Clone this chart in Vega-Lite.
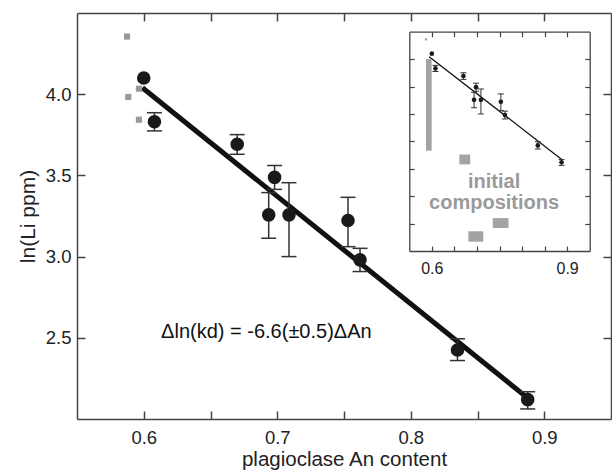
{
  "$schema": "https://vega.github.io/schema/vega-lite/v6.json",
  "width": 534,
  "height": 406,
  "autosize": {"type": "none"},
  "padding": {"left": 77, "top": 13, "right": 1, "bottom": 53},
  "background": "white",
  "config": {
    "view": {"stroke": null},
    "font": "Liberation Sans",
    "axis": {
      "grid": false,
      "domainColor": "#444",
      "domainWidth": 1.5,
      "tickColor": "#444",
      "tickWidth": 1.5,
      "labelFont": "Liberation Sans",
      "labelFontSize": 18.5,
      "labelColor": "#222",
      "labelOverlap": false,
      "labelFlush": false,
      "titleFont": "Liberation Sans",
      "titleFontWeight": "normal",
      "titleFontSize": 21,
      "titleColor": "#222"
    }
  },
  "datasets": {
    "pts": [
      {"An": 0.600, "Li": 4.100, "lo": null, "hi": null},
      {"An": 0.608, "Li": 3.830, "lo": 3.774, "hi": 3.886},
      {"An": 0.670, "Li": 3.692, "lo": 3.630, "hi": 3.751},
      {"An": 0.698, "Li": 3.488, "lo": 3.414, "hi": 3.561},
      {"An": 0.6936, "Li": 3.257, "lo": 3.113, "hi": 3.394},
      {"An": 0.7088, "Li": 3.257, "lo": 3.000, "hi": 3.455},
      {"An": 0.753, "Li": 3.222, "lo": 3.061, "hi": 3.365},
      {"An": 0.762, "Li": 2.980, "lo": 2.908, "hi": 3.051},
      {"An": 0.835, "Li": 2.425, "lo": 2.360, "hi": 2.494},
      {"An": 0.8876, "Li": 2.119, "lo": 2.062, "hi": 2.168}
    ],
    "initial": [
      {"An": 0.5875, "Li": 4.355},
      {"An": 0.5964, "Li": 4.034},
      {"An": 0.5884, "Li": 3.983},
      {"An": 0.5964, "Li": 3.843}
    ],
    "fitMain": [
      {"An": 0.599, "Li": 4.040},
      {"An": 0.887, "Li": 2.133}
    ],
    "fitInset": [
      {"An": 0.594, "Li": 4.044},
      {"An": 0.888, "Li": 2.170}
    ],
    "initialRanges": [
      {"x1": 0.587, "x2": 0.5995, "y1": 2.33, "y2": 4.00},
      {"x1": 0.661, "x2": 0.685, "y1": 2.08, "y2": 2.26},
      {"x1": 0.735, "x2": 0.770, "y1": 0.92, "y2": 1.10},
      {"x1": 0.681, "x2": 0.714, "y1": 0.67, "y2": 0.86}
    ],
    "insetDot": [
      {"An": 0.587, "Li": 4.36}
    ],
    "eqn": [
      {"An": 0.613, "Li": 2.50, "label": "Δln(kd) = -6.6(±0.5)ΔAn"}
    ],
    "insetText": [
      {"An": 0.738, "Li": 1.642, "label": "initial"},
      {"An": 0.738, "Li": 1.260, "label": "compositions"}
    ]
  },
  "layer": [
    {
      "data": {"name": "fitMain"},
      "mark": {"type": "line", "color": "#111", "strokeWidth": 5, "strokeCap": "butt"},
      "encoding": {
        "x": {"field": "An", "type": "quantitative",
          "scale": {"domain": [0.55, 0.95], "nice": false, "zero": false},
          "axis": {"orient": "top", "values": [0.6, 0.65, 0.7, 0.75, 0.8, 0.85, 0.9], "labels": false, "title": null, "tickSize": -8}},
        "y": {"field": "Li", "type": "quantitative",
          "scale": {"domain": [2.0, 4.5], "nice": false, "zero": false},
          "axis": {"orient": "right", "values": [2.5, 3.0, 3.5, 4.0], "labels": false, "title": null, "tickSize": -8}}
      }
    },
    {
      "data": {"name": "initial"},
      "mark": {"type": "square", "color": "#9a9a9a", "size": 38, "opacity": 1},
      "encoding": {
        "x": {"field": "An", "type": "quantitative",
          "scale": {"domain": [0.55, 0.95], "nice": false, "zero": false},
          "axis": {"orient": "bottom", "values": [0.6, 0.65, 0.7, 0.75, 0.8, 0.85, 0.9],
            "labelExpr": "abs(datum.value*10 - round(datum.value*10)) < 0.001 ? format(datum.value, '.1f') : ''",
            "tickSize": -8, "labelPadding": 17,
            "title": "plagioclase An content", "titleFontSize": 20.5, "titleX": 267, "titleY": 46, "titleBaseline": "alphabetic", "titleAlign": "center"}},
        "y": {"field": "Li", "type": "quantitative",
          "scale": {"domain": [2.0, 4.5], "nice": false, "zero": false},
          "axis": {"orient": "left", "values": [2.5, 3.0, 3.5, 4.0], "format": ".1f",
            "tickSize": -8, "labelPadding": 14,
            "title": "ln(Li ppm)", "titleX": -49, "titleY": 203, "titleAngle": 270, "titleBaseline": "middle", "titleAlign": "center"}}
      }
    },
    {
      "data": {"name": "pts"},
      "transform": [{"filter": "isValid(datum.lo)"}],
      "mark": {"type": "rule", "color": "#333", "strokeWidth": 1.5},
      "encoding": {
        "x": {"field": "An", "type": "quantitative", "scale": {"domain": [0.55, 0.95], "nice": false, "zero": false}, "axis": null},
        "y": {"field": "lo", "type": "quantitative", "scale": {"domain": [2.0, 4.5], "nice": false, "zero": false}, "axis": null},
        "y2": {"field": "hi"}
      }
    },
    {
      "data": {"name": "pts"},
      "transform": [{"filter": "isValid(datum.lo)"}],
      "mark": {"type": "tick", "orient": "horizontal", "color": "#333", "size": 15, "thickness": 1.5, "opacity": 1},
      "encoding": {
        "x": {"field": "An", "type": "quantitative", "scale": {"domain": [0.55, 0.95], "nice": false, "zero": false}, "axis": null},
        "y": {"field": "lo", "type": "quantitative", "scale": {"domain": [2.0, 4.5], "nice": false, "zero": false}, "axis": null}
      }
    },
    {
      "data": {"name": "pts"},
      "transform": [{"filter": "isValid(datum.hi)"}],
      "mark": {"type": "tick", "orient": "horizontal", "color": "#333", "size": 15, "thickness": 1.5, "opacity": 1},
      "encoding": {
        "x": {"field": "An", "type": "quantitative", "scale": {"domain": [0.55, 0.95], "nice": false, "zero": false}, "axis": null},
        "y": {"field": "hi", "type": "quantitative", "scale": {"domain": [2.0, 4.5], "nice": false, "zero": false}, "axis": null}
      }
    },
    {
      "data": {"name": "pts"},
      "mark": {"type": "circle", "color": "#1a1a1a", "size": 185, "opacity": 1},
      "encoding": {
        "x": {"field": "An", "type": "quantitative", "scale": {"domain": [0.55, 0.95], "nice": false, "zero": false}, "axis": null},
        "y": {"field": "Li", "type": "quantitative", "scale": {"domain": [2.0, 4.5], "nice": false, "zero": false}, "axis": null}
      }
    },
    {
      "data": {"name": "eqn"},
      "mark": {"type": "text", "align": "left", "baseline": "alphabetic", "fontSize": 20, "font": "Liberation Sans", "color": "#111"},
      "encoding": {
        "x": {"field": "An", "type": "quantitative", "scale": {"domain": [0.55, 0.95], "nice": false, "zero": false}, "axis": null},
        "y": {"field": "Li", "type": "quantitative", "scale": {"domain": [2.0, 4.5], "nice": false, "zero": false}, "axis": null},
        "text": {"field": "label"}
      }
    },
    {
      "data": {"name": "fitInset"},
      "mark": {"type": "line", "color": "#111", "strokeWidth": 1.3},
      "encoding": {
        "x": {"field": "An", "type": "quantitative",
          "scale": {"domain": [0.55, 0.95], "nice": false, "zero": false, "range": [332.3, 512.7]},
          "axis": {"orient": "top", "offset": -18.7, "values": [0.6, 0.65, 0.7, 0.75, 0.8, 0.85, 0.9], "labels": false, "title": null, "tickSize": -5, "domainWidth": 1.3, "tickWidth": 1.2}},
        "y": {"field": "Li", "type": "quantitative",
          "scale": {"domain": [0.5, 4.5], "nice": false, "zero": false, "range": [238, 18.7]},
          "axis": {"orient": "right", "offset": -21.3, "values": [1.0, 1.5, 2.0, 2.5, 3.0, 3.5, 4.0], "labels": false, "title": null, "tickSize": -5, "domainWidth": 1.3, "tickWidth": 1.2}}
      }
    },
    {
      "data": {"name": "initialRanges"},
      "mark": {"type": "rect", "color": "#a3a3a3", "opacity": 1},
      "encoding": {
        "x": {"field": "x1", "type": "quantitative",
          "scale": {"domain": [0.55, 0.95], "nice": false, "zero": false, "range": [332.3, 512.7]},
          "axis": {"orient": "bottom", "offset": -168, "values": [0.6, 0.65, 0.7, 0.75, 0.8, 0.85, 0.9],
            "labelExpr": "abs(datum.value-0.6) < 0.001 || abs(datum.value-0.9) < 0.001 ? format(datum.value, '.1f') : ''",
            "labelFontSize": 16, "tickSize": -5, "labelPadding": 14, "title": null, "domainWidth": 1.3, "tickWidth": 1.2}},
        "x2": {"field": "x2"},
        "y": {"field": "y1", "type": "quantitative",
          "scale": {"domain": [0.5, 4.5], "nice": false, "zero": false, "range": [238, 18.7]},
          "axis": {"orient": "left", "offset": -332.3, "values": [1.0, 1.5, 2.0, 2.5, 3.0, 3.5, 4.0], "labels": false, "title": null, "tickSize": -5, "domainWidth": 1.3, "tickWidth": 1.2}},
        "y2": {"field": "y2"}
      }
    },
    {
      "data": {"name": "insetDot"},
      "mark": {"type": "square", "color": "#a3a3a3", "size": 5, "opacity": 1},
      "encoding": {
        "x": {"field": "An", "type": "quantitative", "scale": {"domain": [0.55, 0.95], "nice": false, "zero": false, "range": [332.3, 512.7]}, "axis": null},
        "y": {"field": "Li", "type": "quantitative", "scale": {"domain": [0.5, 4.5], "nice": false, "zero": false, "range": [238, 18.7]}, "axis": null}
      }
    },
    {
      "data": {"name": "pts"},
      "transform": [{"filter": "isValid(datum.lo)"}],
      "mark": {"type": "rule", "color": "#333", "strokeWidth": 1},
      "encoding": {
        "x": {"field": "An", "type": "quantitative", "scale": {"domain": [0.55, 0.95], "nice": false, "zero": false, "range": [332.3, 512.7]}, "axis": null},
        "y": {"field": "lo", "type": "quantitative", "scale": {"domain": [0.5, 4.5], "nice": false, "zero": false, "range": [238, 18.7]}, "axis": null},
        "y2": {"field": "hi"}
      }
    },
    {
      "data": {"name": "pts"},
      "transform": [{"filter": "isValid(datum.lo)"}],
      "mark": {"type": "tick", "orient": "horizontal", "color": "#333", "size": 6, "thickness": 1, "opacity": 1},
      "encoding": {
        "x": {"field": "An", "type": "quantitative", "scale": {"domain": [0.55, 0.95], "nice": false, "zero": false, "range": [332.3, 512.7]}, "axis": null},
        "y": {"field": "lo", "type": "quantitative", "scale": {"domain": [0.5, 4.5], "nice": false, "zero": false, "range": [238, 18.7]}, "axis": null}
      }
    },
    {
      "data": {"name": "pts"},
      "transform": [{"filter": "isValid(datum.hi)"}],
      "mark": {"type": "tick", "orient": "horizontal", "color": "#333", "size": 6, "thickness": 1, "opacity": 1},
      "encoding": {
        "x": {"field": "An", "type": "quantitative", "scale": {"domain": [0.55, 0.95], "nice": false, "zero": false, "range": [332.3, 512.7]}, "axis": null},
        "y": {"field": "hi", "type": "quantitative", "scale": {"domain": [0.5, 4.5], "nice": false, "zero": false, "range": [238, 18.7]}, "axis": null}
      }
    },
    {
      "data": {"name": "pts"},
      "mark": {"type": "circle", "color": "#1a1a1a", "size": 22, "opacity": 1},
      "encoding": {
        "x": {"field": "An", "type": "quantitative", "scale": {"domain": [0.55, 0.95], "nice": false, "zero": false, "range": [332.3, 512.7]}, "axis": null},
        "y": {"field": "Li", "type": "quantitative", "scale": {"domain": [0.5, 4.5], "nice": false, "zero": false, "range": [238, 18.7]}, "axis": null}
      }
    },
    {
      "data": {"name": "insetText"},
      "mark": {"type": "text", "align": "center", "baseline": "alphabetic", "fontSize": 20, "fontWeight": "bold", "font": "Liberation Sans", "color": "#9a9a9a"},
      "encoding": {
        "x": {"field": "An", "type": "quantitative", "scale": {"domain": [0.55, 0.95], "nice": false, "zero": false, "range": [332.3, 512.7]}, "axis": null},
        "y": {"field": "Li", "type": "quantitative", "scale": {"domain": [0.5, 4.5], "nice": false, "zero": false, "range": [238, 18.7]}, "axis": null},
        "text": {"field": "label"}
      }
    }
  ],
  "resolve": {
    "scale": {"x": "independent", "y": "independent"},
    "axis": {"x": "independent", "y": "independent"}
  }
}
